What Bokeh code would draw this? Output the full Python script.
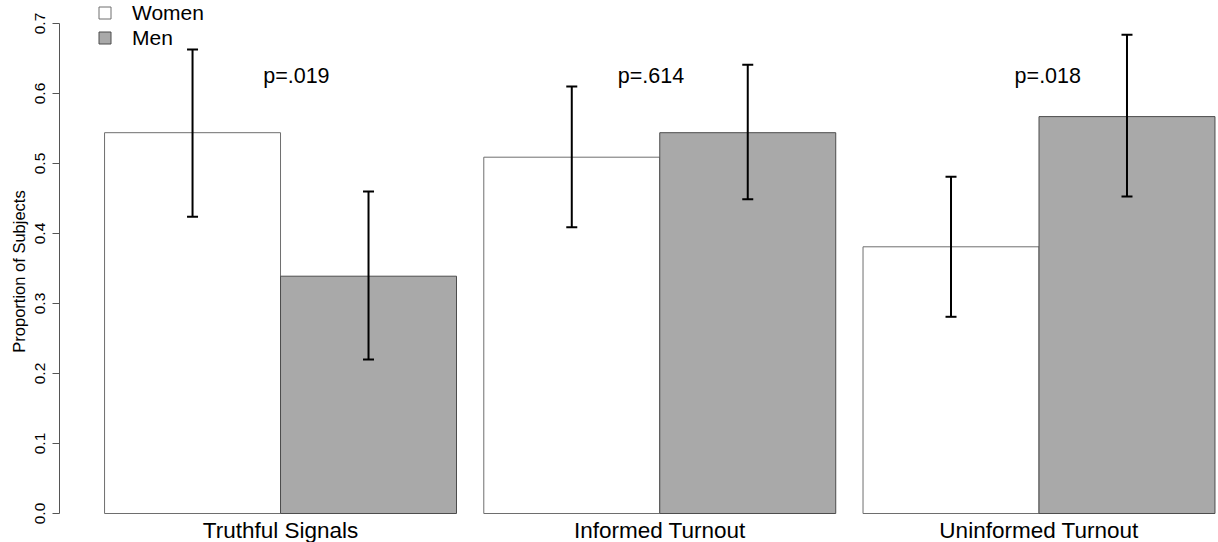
from bokeh.plotting import figure
from bokeh.models import (Range1d, FixedTicker, PrintfTickFormatter, ColumnDataSource,
                          Whisker, TeeHead, Legend, LegendItem)
from bokeh.core.properties import value
from bokeh.embed import file_html
from bokeh.resources import INLINE

# ---- data ----
categories = ["Truthful Signals", "Informed Turnout", "Uninformed Turnout"]
series = ["Women", "Men"]
women = [0.544, 0.509, 0.381]
men = [0.339, 0.544, 0.567]
women_lower = [0.424, 0.409, 0.281]
women_upper = [0.663, 0.610, 0.481]
men_lower = [0.220, 0.449, 0.453]
men_upper = [0.460, 0.641, 0.684]
p_values = ["p=.019", "p=.614", "p=.018"]
y_ticks = [0.0, 0.1, 0.2, 0.3, 0.4, 0.5, 0.6, 0.7]

# ---- layout constants ----
GAP = 0.155
BAR_W = 1.0
p_label_dx = [0.09, -0.05, 0.05]
P_LABEL_Y = 0.625
FONT = "Liberation Sans"

group_left = [i * (2 * BAR_W + GAP) for i in range(len(categories))]
women_x = [g + 0.5 * BAR_W for g in group_left]
men_x = [g + 1.5 * BAR_W for g in group_left]
group_center = [g + BAR_W for g in group_left]

p = figure(width=1218, height=542, output_backend="svg", toolbar_location=None,
           x_range=Range1d(-0.256, 6.330), y_range=Range1d(-29 / 700, 0.7 + 23 / 700),
           min_border_left=59, min_border_right=0, min_border_top=0, min_border_bottom=0)
p.xaxis.visible = False
p.xgrid.visible = False
p.ygrid.visible = False
p.outline_line_color = None
p.background_fill_color = "white"
p.border_fill_color = "white"

src_w = ColumnDataSource(dict(x=women_x, top=women, lower=women_lower, upper=women_upper))
src_m = ColumnDataSource(dict(x=men_x, top=men, lower=men_lower, upper=men_upper))

r_w = p.vbar(x="x", top="top", bottom=0, width=BAR_W, source=src_w,
             fill_color="white", line_color="#6e6e6e", line_width=1)
r_m = p.vbar(x="x", top="top", bottom=0, width=BAR_W, source=src_m,
             fill_color="#a9a9a9", line_color="#4d4d4d", line_width=1)

for src in (src_w, src_m):
    w = Whisker(source=src, base="x", upper="upper", lower="lower", dimension="height",
                line_color="black", line_width=2, level="overlay",
                upper_head=TeeHead(size=11, line_width=2, line_color="black"),
                lower_head=TeeHead(size=11, line_width=2, line_color="black"))
    p.add_layout(w)

# p-value annotations
p.text(x=[c + d for c, d in zip(group_center, p_label_dx)], y=[P_LABEL_Y] * 3, text=p_values,
       text_font=value(FONT), text_font_size="21.5px", text_align="center",
       text_baseline="middle", text_color="black")

# category labels
p.text(x=group_center, y=[0.0] * 3, text=categories, y_offset=17,
       text_font=value(FONT), text_font_size="22.5px", text_align="center",
       text_baseline="middle", text_color="black")

# y axis, R style
ax = p.yaxis[0]
ax.bounds = (0, 0.7)
ax.ticker = FixedTicker(ticks=y_ticks)
ax.formatter = PrintfTickFormatter(format="%.1f")
ax.major_label_orientation = "vertical"
ax.major_label_text_font = FONT
ax.major_label_text_font_size = "15.5px"
ax.major_label_text_color = "black"
ax.major_label_standoff = 8
ax.major_tick_out = 7
ax.major_tick_in = 0
ax.minor_tick_out = 0
ax.minor_tick_in = 0
ax.axis_line_color = "#555555"
ax.major_tick_line_color = "#555555"
ax.axis_label = "Proportion of Subjects"
ax.axis_label_text_font = FONT
ax.axis_label_text_font_size = "16.5px"
ax.axis_label_text_font_style = "normal"
ax.axis_label_text_color = "black"
ax.axis_label_standoff = 4

legend = Legend(items=[LegendItem(label=series[0], renderers=[r_w]),
                       LegendItem(label=series[1], renderers=[r_m])],
                location=(38, 492), orientation="vertical",
                glyph_width=15, glyph_height=15, label_height=25,
                label_text_font=FONT, label_text_font_size="21px",
                label_text_color="black", label_standoff=20,
                spacing=0, padding=0, margin=0,
                border_line_alpha=0, background_fill_alpha=0)
p.add_layout(legend)

open("out.html", "w").write(file_html(p, INLINE))
